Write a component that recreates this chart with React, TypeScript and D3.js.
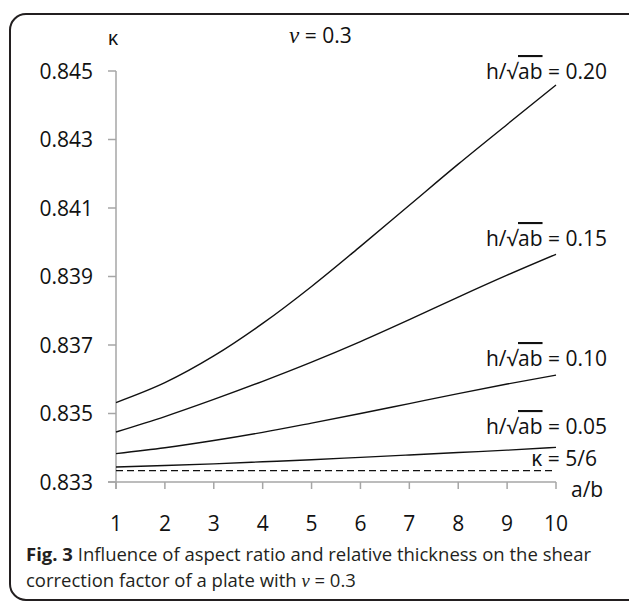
import React from "react";
import * as d3 from "d3";

const aOverB = [1, 2, 3, 4, 5, 6, 7, 8, 9, 10];
const k020 = [0.83532, 0.8359, 0.83668, 0.83763, 0.83871, 0.83988, 0.84108, 0.84228, 0.84344, 0.84459];
const k015 = [0.83446, 0.83491, 0.83541, 0.83594, 0.8365, 0.8371, 0.83774, 0.8384, 0.83904, 0.83965];
const k010 = [0.83383, 0.834, 0.83421, 0.83445, 0.83472, 0.835, 0.83529, 0.83558, 0.83586, 0.83612];
const k005 = [0.83344, 0.83348, 0.83353, 0.83359, 0.83365, 0.83372, 0.83379, 0.83386, 0.83393, 0.83401];
const kappaRef = 5 / 6;
const yTicks = [0.833, 0.835, 0.837, 0.839, 0.841, 0.843, 0.845];
const seriesLabels = ["0.20", "0.15", "0.10", "0.05"];

const FONT = "'Open Sans', 'Noto Sans', sans-serif";

export default function App() {
  const x = d3.scaleLinear().domain([1, 10]).range([116, 556]);
  const y = d3.scaleLinear().domain([0.833, 0.845]).range([482, 71]);
  const line = d3
    .line<number>()
    .x((_, i) => x(aOverB[i]))
    .y((d) => y(d))
    .curve(d3.curveMonotoneX);
  const series = [k020, k015, k010, k005];
  const labelBaselines = [79, 246, 366, 434];
  const axisColor = "#a6a6a6";

  return (
    <svg
      width={629}
      height={601}
      style={{ position: "absolute", left: 0, top: 0, background: "#fff" }}
      fontFamily={FONT}
    >
      <rect x={10} y={14} width={650} height={586} rx={16} ry={16} fill="none" stroke="#231f20" strokeWidth={2} />

      {/* axes */}
      <line x1={x(1)} x2={x(1)} y1={y(0.845)} y2={489} stroke={axisColor} strokeWidth={1.5} />
      <line x1={108} x2={x(10)} y1={y(0.833)} y2={y(0.833)} stroke={axisColor} strokeWidth={1.5} />
      {yTicks.map((t) => (
        <g key={t}>
          <line x1={108} x2={x(1)} y1={y(t)} y2={y(t)} stroke={axisColor} strokeWidth={1.5} />
          <text x={93} y={y(t) + 7.5} textAnchor="end" fontSize={21} fill="#111">
            {d3.format(".3f")(t)}
          </text>
        </g>
      ))}
      {aOverB.map((t) => (
        <g key={t}>
          <line x1={x(t)} x2={x(t)} y1={y(0.833)} y2={489} stroke={axisColor} strokeWidth={1.5} />
          <text x={x(t)} y={531} textAnchor="middle" fontSize={21} fill="#111">
            {t}
          </text>
        </g>
      ))}

      {/* reference line */}
      <line
        x1={x(1)}
        x2={552}
        y1={y(kappaRef)}
        y2={y(kappaRef)}
        stroke="#111"
        strokeWidth={1.4}
        strokeDasharray="7,4"
      />

      {series.map((s, i) => (
        <path key={i} d={line(s) || ""} fill="none" stroke="#111" strokeWidth={1.4} />
      ))}

      {seriesLabels.map((lab, i) => (
        <text key={lab} x={607} y={labelBaselines[i]} textAnchor="end" fontSize={21} fill="#111">
          h/√<tspan style={{ textDecoration: "overline" }}>ab</tspan> = {lab}
        </text>
      ))}

      <text x={597} y={466} textAnchor="end" fontSize={21} fill="#111">
        κ = 5/6
      </text>
      <text x={571} y={497} fontSize={21} fill="#111">
        a/b
      </text>
      <text x={113} y={45} textAnchor="middle" fontSize={20} fill="#111">
        κ
      </text>
      <text x={289} y={43} fontSize={21} fill="#111">
        <tspan fontFamily="'Liberation Serif', serif" fontStyle="italic" fontSize={23}>ν</tspan> = 0.3
      </text>

      {/* caption */}
      <text x={26} y={561} fontSize={18.5} fill="#231f20">
        <tspan fontWeight="bold">Fig. 3</tspan> Influence of aspect ratio and relative thickness on the shear
      </text>
      <text x={26} y={587} fontSize={18.5} fill="#231f20">
        correction factor of a plate with{" "}
        <tspan fontFamily="'Liberation Serif', serif" fontStyle="italic">ν</tspan> = 0.3
      </text>
    </svg>
  );
}
